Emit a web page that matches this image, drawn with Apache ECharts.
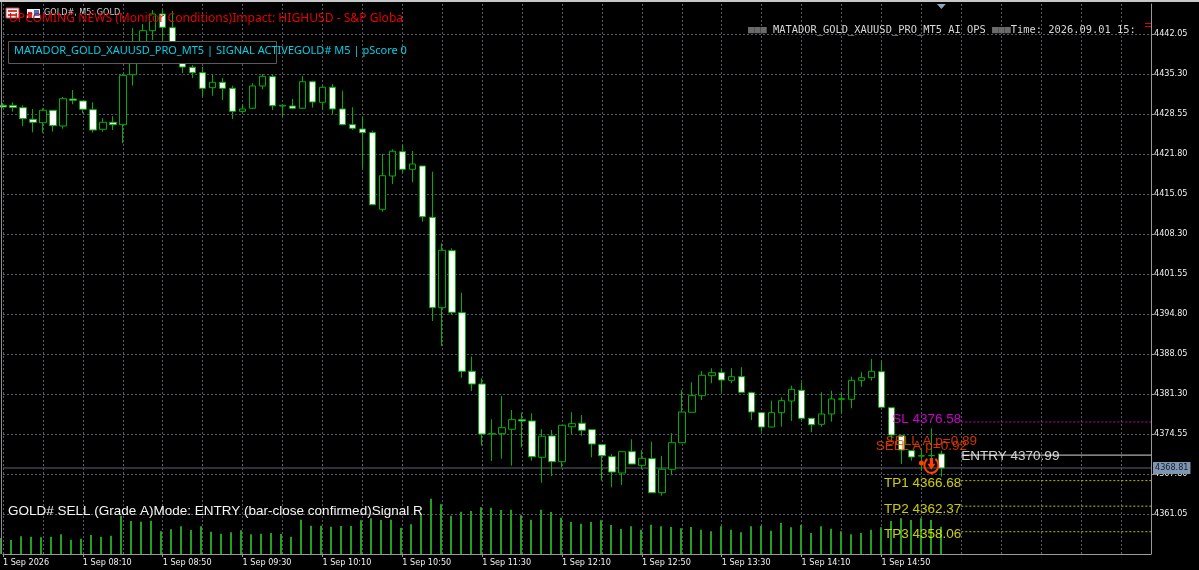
<!DOCTYPE html>
<html>
<head>
<meta charset="utf-8">
<title>GOLD# M5</title>
<script src="https://cdn.jsdelivr.net/npm/echarts@6/dist/echarts.min.js"></script>
<style>
html, body { margin: 0; padding: 0; background: #000; }
#chart { width: 1199px; height: 570px; }
</style>
</head>
<body>
<div id="chart"></div>
<script>
// bars, 5 minute bars from 07:30
var opens = [
    4430.02, 4429.99, 4429.62, 4427.66, 4427.08, 4429.18, 4426.53, 4431.08, 4430.75, 4429.28,
    4425.97, 4427.15, 4426.75, 4435.18, 4439.35, 4442.61, 4445.43, 4443.12, 4440.03, 4436.43,
    4435.52, 4432.99, 4433.90, 4432.89, 4429.00, 4429.52, 4433.28, 4434.85, 4429.90, 4429.90,
    4429.52, 4434.00, 4430.53, 4433.06, 4429.40, 4426.75, 4426.02, 4425.40, 4412.47, 4418.09,
    4422.19, 4419.22, 4419.78, 4411.12, 4395.87, 4405.48, 4395.02, 4385.13, 4382.99, 4374.55,
    4374.60, 4375.35, 4376.97, 4376.75, 4370.62, 4374.22, 4369.88, 4375.78, 4376.36, 4375.28,
    4372.75, 4370.72, 4367.97, 4371.57, 4369.27, 4370.38, 4364.65, 4368.60, 4373.08, 4378.21,
    4381.02, 4384.39, 4384.90, 4383.61, 4384.22, 4381.52, 4378.15, 4375.73, 4378.15, 4380.12,
    4381.93, 4377.20, 4376.19, 4377.93, 4380.41, 4380.41, 4383.61, 4384.05, 4385.06, 4378.99,
    4374.26, 4371.73, 4370.84, 4370.89, 4371.18
];
var closes = [
    4429.73, 4429.65, 4427.76, 4427.15, 4429.18, 4426.58, 4431.13, 4430.87, 4429.35, 4425.85,
    4427.15, 4426.75, 4435.08, 4439.35, 4442.61, 4445.43, 4443.18, 4440.20, 4436.48, 4435.52,
    4432.89, 4433.90, 4432.89, 4429.00, 4429.40, 4433.28, 4434.91, 4429.95, 4430.02, 4429.52,
    4434.00, 4430.58, 4433.06, 4429.40, 4426.75, 4426.14, 4425.40, 4413.25, 4418.14, 4422.26,
    4419.22, 4420.11, 4411.22, 4395.87, 4405.55, 4395.09, 4385.13, 4382.99, 4374.55, 4374.60,
    4375.62, 4376.97, 4376.75, 4370.72, 4374.17, 4369.88, 4376.02, 4376.29, 4375.18, 4372.86,
    4370.89, 4368.14, 4371.57, 4369.49, 4370.45, 4364.65, 4368.60, 4373.08, 4378.26, 4381.02,
    4384.46, 4384.90, 4383.66, 4384.22, 4381.59, 4378.26, 4375.73, 4378.15, 4380.17, 4382.09,
    4377.20, 4376.12, 4377.93, 4380.46, 4380.51, 4383.61, 4384.05, 4385.13, 4379.06, 4374.38,
    4371.85, 4370.67, 4370.87, 4370.92, 4368.81
];
var lows = [
    4429.56, 4428.94, 4426.53, 4425.46, 4425.40, 4425.57, 4426.07, 4430.19, 4428.67, 4425.40,
    4425.57, 4425.85, 4423.61, 4433.33, 4438.51, 4441.04, 4441.04, 4439.69, 4435.47, 4434.63,
    4431.47, 4431.64, 4430.91, 4427.71, 4428.67, 4429.40, 4432.72, 4429.23, 4428.10, 4429.40,
    4429.40, 4429.62, 4429.23, 4428.50, 4426.65, 4425.85, 4419.21, 4413.25, 4412.07, 4416.74,
    4418.55, 4417.03, 4410.38, 4393.62, 4389.40, 4394.63, 4384.05, 4381.81, 4372.58, 4370.00,
    4370.38, 4369.20, 4372.31, 4370.05, 4366.33, 4367.46, 4368.93, 4374.55, 4374.26, 4370.62,
    4366.67, 4365.56, 4365.95, 4369.49, 4368.60, 4364.65, 4364.14, 4367.58, 4373.08, 4378.21,
    4380.29, 4383.11, 4381.69, 4383.11, 4381.59, 4376.92, 4374.94, 4375.68, 4375.78, 4376.75,
    4376.92, 4374.84, 4375.78, 4376.63, 4378.05, 4378.89, 4382.53, 4383.55, 4379.06, 4373.54,
    4369.49, 4370.05, 4368.31, 4368.81, 4367.35
];
var highs = [
    4430.40, 4430.49, 4430.02, 4429.40, 4429.52, 4429.18, 4431.42, 4432.60, 4430.75, 4430.53,
    4427.83, 4428.16, 4435.30, 4443.07, 4443.74, 4446.10, 4446.10, 4445.93, 4440.37, 4436.82,
    4436.48, 4435.13, 4434.63, 4433.33, 4430.19, 4433.73, 4435.30, 4435.30, 4430.02, 4431.08,
    4434.96, 4434.17, 4433.28, 4433.61, 4432.48, 4429.68, 4428.21, 4425.73, 4421.80, 4422.60,
    4423.32, 4422.31, 4419.78, 4418.82, 4406.73, 4405.89, 4398.40, 4387.60, 4383.95, 4377.03,
    4380.97, 4378.60, 4378.15, 4378.05, 4375.35, 4375.23, 4376.02, 4378.22, 4377.76, 4375.28,
    4372.75, 4371.18, 4371.57, 4373.66, 4371.85, 4373.25, 4370.84, 4374.67, 4381.98, 4383.28,
    4385.18, 4385.64, 4385.64, 4385.64, 4385.81, 4381.69, 4378.15, 4380.17, 4380.75, 4382.70,
    4383.28, 4377.20, 4381.59, 4381.86, 4381.69, 4384.22, 4384.97, 4387.21, 4386.75, 4378.99,
    4374.26, 4371.73, 4371.85, 4375.51, 4371.73
];
var volumes = [
    160, 140, 177, 173, 167, 173, 197, 143, 153, 190,
    173, 183, 383, 330, 323, 333, 227, 247, 277, 240,
    277, 223, 203, 217, 237, 197, 203, 210, 200, 173,
    343, 283, 283, 273, 280, 280, 337, 357, 340, 343,
    263, 297, 390, 553, 497, 383, 423, 430, 467, 463,
    440, 443, 387, 343, 443, 420, 363, 320, 303, 320,
    337, 290, 250, 277, 243, 293, 277, 270, 257, 270,
    243, 227, 277, 243, 217, 277, 283, 233, 310, 267,
    290, 210, 277, 253, 227, 197, 210, 243, 267, 330,
    357, 340, 357, 340, 273
];
var priceTicks = [
    4361.05, 4367.80, 4374.55, 4381.30, 4388.05, 4394.80, 4401.55,
    4408.30, 4415.05, 4421.80, 4428.55, 4435.30, 4442.05
];
var currentPrice = 4368.81;
var slLevel = 4376.58;
var entryLevel = 4370.99;
var tpLevels = [4366.68, 4362.37, 4358.06];
var signalBars = [93, 92];
var signalPrices = [4373.25, 4372.41];
var signalTexts = ['SELL A p=0.89', 'SELL A p=0.92'];

// the axis runs on past the last bar, as the terminal leaves empty room on the right
var slots = 116;
var lastBar = opens.length - 1;
var levelStart = lastBar + 2;

var categories = [];
for (var i = 0; i < slots; i++) {
    if (i === 0) {
        categories.push('1 Sep 2026');
    } else if (i > lastBar) {
        categories.push('');
    } else {
        var m = 7 * 60 + 30 + i * 5;
        var hh = Math.floor(m / 60), mm = m % 60;
        categories.push('1 Sep ' + (hh < 10 ? '0' : '') + hh + ':' + (mm < 10 ? '0' : '') + mm);
    }
}
var candles = opens.map(function (o, k) {
    return [o, closes[k], lows[k], highs[k]];
});

var GREEN = '#00b000';
var YELLOW = '#ffff00';
var AXIS = '#9a9a9a';
var TICK_TEXT = '#f0f0f0';
var FONT_TICK = '"DejaVu Sans Condensed", "Liberation Sans"';
var FONT_TEXT = 'Liberation Sans';

function levelLine(name, value, color, type, width) {
    return {
        name: name,
        type: 'line',
        data: [[levelStart, value], [slots - 1, value]],
        showSymbol: false,
        silent: true,
        z: 3,
        lineStyle: { color: color, type: type, width: width }
    };
}
function levelText(text, value, color, position, dy) {
    return {
        value: [levelStart, value],
        label: {
            show: true,
            formatter: text,
            position: position,
            distance: 0,
            offset: [0, dy],
            color: color,
            fontSize: 13.5,
            fontFamily: FONT_TEXT
        }
    };
}

var option = {
    backgroundColor: '#000',
    animation: false,
    grid: [
        { left: 1, top: 4, width: 1150, height: 550 },
        { left: 1, top: 454, width: 1150, height: 100 }
    ],
    xAxis: [
        {
            type: 'category',
            gridIndex: 0,
            data: categories,
            boundaryGap: false,
            axisLine: { show: true, lineStyle: { color: AXIS, width: 1 } },
            axisTick: {
                show: true,
                length: 3,
                lineStyle: { color: AXIS },
                interval: function (idx) { return idx % 8 === 0 && idx <= lastBar; }
            },
            axisLabel: {
                color: TICK_TEXT,
                fontSize: 9,
                fontFamily: FONT_TICK,
                align: 'left',
                margin: 4,
                interval: function (idx) { return idx % 8 === 0 && idx <= lastBar; }
            },
            splitLine: {
                show: true,
                interval: 3,
                lineStyle: { color: '#555a65', type: [2, 2], width: 1 }
            }
        },
        {
            type: 'category',
            gridIndex: 1,
            data: categories,
            boundaryGap: false,
            show: false
        }
    ],
    yAxis: [
        {
            type: 'value',
            gridIndex: 0,
            position: 'right',
            min: 4354.3,
            max: 4447.1125,
            axisLine: { show: true, lineStyle: { color: AXIS, width: 1 } },
            axisTick: { show: true, length: 3, lineStyle: { color: AXIS }, customValues: priceTicks },
            axisLabel: {
                color: TICK_TEXT,
                fontSize: 9,
                fontFamily: FONT_TICK,
                margin: 3,
                customValues: priceTicks,
                formatter: function (v) { return v.toFixed(2); }
            },
            splitLine: { show: true, lineStyle: { color: '#555a65', type: [2, 2], width: 1 } }
        },
        {
            type: 'value',
            gridIndex: 1,
            min: 0,
            max: 1000,
            show: false
        }
    ],
    series: [
        {
            name: 'Volume',
            type: 'bar',
            xAxisIndex: 1,
            yAxisIndex: 1,
            data: volumes,
            barWidth: 2,
            silent: true,
            z: 1,
            itemStyle: { color: '#22a022' }
        },
        {
            name: 'Price',
            type: 'line',
            data: [[0, currentPrice], [slots - 1, currentPrice]],
            showSymbol: false,
            silent: true,
            z: 1,
            lineStyle: { color: '#5c6470', width: 1 },
            endLabel: {
                show: true,
                formatter: currentPrice.toFixed(2),
                color: '#10203a',
                fontSize: 9,
                fontFamily: FONT_TICK,
                backgroundColor: '#8096ae',
                padding: [2, 2, 1, 2],
                distance: 2
            }
        },
        {
            name: 'GOLD#',
            type: 'candlestick',
            data: candles,
            barWidth: 7,
            z: 2,
            itemStyle: {
                color: '#000',
                color0: '#fff',
                borderColor: GREEN,
                borderColor0: GREEN,
                borderColorDoji: GREEN,
                borderWidth: 1
            }
        },
        levelLine('SL', slLevel, '#c000c0', [2, 2], 1),
        levelLine('ENTRY', entryLevel, '#d8d8d8', 'solid', 1),
        levelLine('TP1', tpLevels[0], '#c0c000', [2, 2], 1),
        levelLine('TP2', tpLevels[1], '#c0c000', [2, 2], 1),
        levelLine('TP3', tpLevels[2], '#c0c000', [2, 2], 1),
        {
            name: 'Level text',
            type: 'scatter',
            symbolSize: 0,
            silent: true,
            z: 6,
            data: [
                levelText('SL ' + slLevel, slLevel, '#ff00ff', 'left', -3),
                levelText('ENTRY ' + entryLevel, entryLevel, '#ffffff', 'right', 1),
                levelText('TP1 ' + tpLevels[0], tpLevels[0], YELLOW, 'left', 3),
                levelText('TP2 ' + tpLevels[1], tpLevels[1], YELLOW, 'left', 3),
                levelText('TP3 ' + tpLevels[2], tpLevels[2], YELLOW, 'left', 3)
            ]
        },
        {
            name: 'Signal text',
            type: 'scatter',
            symbolSize: 0,
            silent: true,
            z: 5,
            data: signalTexts.map(function (t, k) {
                return {
                    value: [signalBars[k], signalPrices[k]],
                    label: {
                        show: true,
                        formatter: t,
                        position: 'inside',
                        color: '#ff4000',
                        fontSize: 13.5,
                        fontFamily: FONT_TEXT
                    }
                };
            })
        },
        {
            name: 'Signal arrow',
            type: 'scatter',
            silent: true,
            z: 5,
            symbol: 'path://M5.1 2.17A12 12 0 1 0 18.9 2.17L17.16 4.63A9 9 0 1 1 6.84 4.63ZM9.5 2H14.5V10H18L12 18L6 10H9.5Z',
            symbolSize: 16,
            itemStyle: { color: '#ff4000', opacity: 1 },
            data: [[93, 4369.15]]
        },
        {
            name: 'Signal dot',
            type: 'scatter',
            silent: true,
            z: 5,
            symbolSize: 5,
            itemStyle: { color: '#ff4000', opacity: 1 },
            data: [[92, 4369.66]]
        },
        {
            name: 'Shift marker',
            type: 'scatter',
            silent: true,
            z: 5,
            symbol: 'triangle',
            symbolRotate: 180,
            symbolSize: [9, 5],
            itemStyle: { color: '#8ea4b8', opacity: 1 },
            data: [[lastBar, 4446.69]]
        }
    ],
    graphic: [
        // window edge
        { type: 'rect', shape: { x: 0, y: 0, width: 1199, height: 2 }, style: { fill: '#c8c8c8' }, z: 20 },
        { type: 'line', shape: { x1: 1.5, y1: 2, x2: 1.5, y2: 554 }, style: { stroke: '#8a8a8a', lineWidth: 1 }, z: 20 },
        // chart title icons
        { type: 'rect', shape: { x: 6, y: 8, width: 13, height: 10 }, style: { fill: '#f4f4f4', stroke: '#d04040', lineWidth: 1 }, z: 20 },
        { type: 'rect', shape: { x: 8, y: 10, width: 9, height: 2 }, style: { fill: '#d04040' }, z: 20 },
        { type: 'rect', shape: { x: 8, y: 14, width: 9, height: 2 }, style: { fill: '#d04040' }, z: 20 },
        { type: 'rect', shape: { x: 27, y: 9, width: 13, height: 9 }, style: { fill: '#f4f4f4' }, z: 20 },
        { type: 'rect', shape: { x: 28, y: 12, width: 4, height: 6 }, style: { fill: '#c03030' }, z: 20 },
        { type: 'rect', shape: { x: 34, y: 10, width: 5, height: 6 }, style: { fill: '#3a78c8' }, z: 20 },
        {
            type: 'text', x: 44, y: 13, z: 20,
            style: { text: 'GOLD#, M5: GOLD', fill: '#d0d0d0', font: '9px "DejaVu Sans Condensed", "Liberation Sans"', verticalAlign: 'middle' }
        },
        {
            type: 'text', x: 9, y: 19, z: 21,
            style: {
                text: 'UPCOMING NEWS (Monitor Conditions)Impact: HIGHUSD - S&P Globa',
                fill: '#e80000', font: '12.1px "Noto Sans"', verticalAlign: 'middle'
            }
        },
        {
            type: 'rect', z: 22,
            shape: { x: 8.5, y: 41.5, width: 268, height: 22 },
            style: { fill: '#000', stroke: '#5a5a5a', lineWidth: 1 }
        },
        {
            type: 'text', x: 14, y: 51, z: 23,
            style: {
                text: 'MATADOR_GOLD_XAUUSD_PRO_MT5 | SIGNAL ACTIVEGOLD# M5 | pScore 0',
                fill: '#00d0e6', font: '11px "Noto Sans"', verticalAlign: 'middle'
            }
        },
        {
            type: 'text', x: 748, y: 30, z: 20,
            style: {
                text: '{g|\u25a0\u25a0\u25a0} MATADOR_GOLD_XAUUSD_PRO_MT5 AI OPS {g|\u25a0\u25a0\u25a0}Time: 2026.09.01 15:',
                fill: '#d8d8d8', font: '10.4px "DejaVu Sans Mono"', verticalAlign: 'middle',
                rich: { g: { fill: '#6a6a6a', font: '10.4px "DejaVu Sans Mono"' } }
            }
        },
        { type: 'rect', shape: { x: 1145, y: 23, width: 6, height: 1 }, style: { fill: '#e00000' }, z: 20 },
        { type: 'rect', shape: { x: 1145, y: 26, width: 6, height: 1 }, style: { fill: '#e00000' }, z: 20 },
        {
            type: 'text', x: 8, y: 511.5, z: 20,
            style: {
                text: 'GOLD# SELL (Grade A)Mode: ENTRY (bar-close confirmed)Signal R',
                fill: '#f4f4f4', font: '13.5px "Liberation Sans"', verticalAlign: 'middle'
            }
        }
    ]
};

echarts.init(document.getElementById('chart')).setOption(option);
</script>
</body>
</html>
